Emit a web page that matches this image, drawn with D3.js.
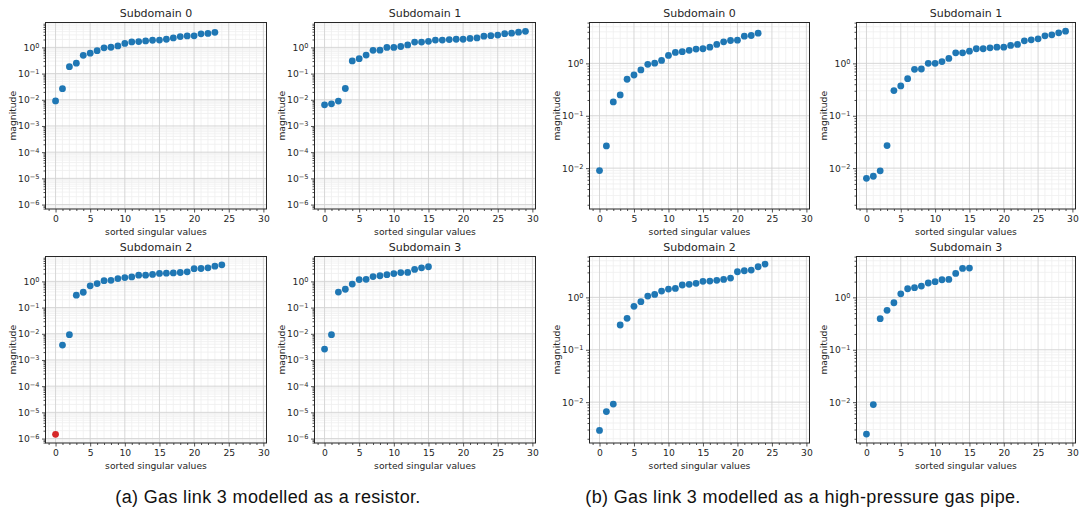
<!DOCTYPE html>
<html>
<head>
<meta charset="utf-8">
<script src="https://cdn.jsdelivr.net/npm/d3@7"></script>
<style>
  body { margin: 0; background: #fff; }
  svg text { font-family: "DejaVu Sans", sans-serif; fill: #262626; }
  .caption { font-family: "Liberation Sans", Arial, sans-serif; font-size: 18px; letter-spacing: 0.35px; fill: #111; }
</style>
</head>
<body>
<svg id="viz" width="1081" height="515"></svg>
<script>
// singular values (index = position in sorted list)
var resistorSub0 = [0.0090, 0.0265, 0.184, 0.25, 0.497, 0.60, 0.75, 0.96, 1.01, 1.14, 1.42, 1.62, 1.67, 1.77, 1.87, 1.90, 2.04, 2.30, 2.58, 2.73, 2.77, 3.30, 3.40, 3.77];
var resistorSub1 = [0.0064, 0.0070, 0.0089, 0.0269, 0.303, 0.371, 0.51, 0.77, 0.78, 1.0, 1.0, 1.08, 1.24, 1.59, 1.59, 1.71, 1.90, 1.90, 1.98, 2.04, 2.04, 2.20, 2.30, 2.69, 2.81, 2.94, 3.35, 3.50, 3.82, 4.11];
var resistorSub2 = [1.45e-6, 0.0037, 0.0092, 0.297, 0.385, 0.674, 0.826, 1.06, 1.10, 1.28, 1.40, 1.48, 1.72, 1.72, 1.84, 2.02, 2.05, 2.11, 2.18, 2.32, 3.05, 3.10, 3.30, 3.82, 4.30];
var resistorSub3 = [0.0026, 0.0092, 0.392, 0.50, 0.79, 1.17, 1.20, 1.53, 1.64, 1.80, 1.99, 2.17, 2.20, 2.87, 3.30, 3.62];
var pipeSub0 = [0.0090, 0.0265, 0.184, 0.25, 0.497, 0.60, 0.75, 0.96, 1.01, 1.14, 1.42, 1.62, 1.67, 1.77, 1.87, 1.90, 2.04, 2.30, 2.58, 2.73, 2.77, 3.30, 3.40, 3.77];
var pipeSub1 = [0.0064, 0.0070, 0.0089, 0.0269, 0.303, 0.371, 0.51, 0.77, 0.78, 1.0, 1.0, 1.08, 1.24, 1.59, 1.59, 1.71, 1.90, 1.90, 1.98, 2.04, 2.04, 2.20, 2.30, 2.69, 2.81, 2.94, 3.35, 3.50, 3.82, 4.11];
var pipeSub2 = [0.00288, 0.0066, 0.0092, 0.297, 0.398, 0.674, 0.826, 1.06, 1.14, 1.32, 1.44, 1.48, 1.72, 1.77, 1.85, 2.02, 2.05, 2.11, 2.20, 2.33, 3.08, 3.22, 3.32, 3.84, 4.31];
var pipeSub3 = [0.00246, 0.0090, 0.392, 0.565, 0.79, 1.17, 1.46, 1.53, 1.64, 1.88, 1.99, 2.17, 2.20, 2.87, 3.56, 3.62];

var xTicks = [0, 5, 10, 15, 20, 25, 30];
var leftExp = [-6, -5, -4, -3, -2, -1, 0];
var rightExp = [-2, -1, 0];
var captions = ["(a) Gas link 3 modelled as a resistor.", "(b) Gas link 3 modelled as a high-pressure gas pipe."];

var cols = [[45.5, 266.5], [314.5, 535.5], [589.5, 809.5], [856.5, 1075.5]];
var rows = [[22.5, 209], [256.5, 443]];
var blue = "#1f77b4", red = "#d62728";

var panels = [
  {title: "Subdomain 0", data: resistorSub0, col: 0, row: 0, logLim: [-6.17, 0.95], exps: leftExp},
  {title: "Subdomain 1", data: resistorSub1, col: 1, row: 0, logLim: [-6.17, 0.95], exps: leftExp},
  {title: "Subdomain 2", data: resistorSub2, col: 0, row: 1, logLim: [-6.17, 0.95], exps: leftExp, red: 0},
  {title: "Subdomain 3", data: resistorSub3, col: 1, row: 1, logLim: [-6.17, 0.95], exps: leftExp},
  {title: "Subdomain 0", data: pipeSub0, col: 2, row: 0, logLim: [-2.78, 0.78], exps: rightExp},
  {title: "Subdomain 1", data: pipeSub1, col: 3, row: 0, logLim: [-2.78, 0.78], exps: rightExp},
  {title: "Subdomain 2", data: pipeSub2, col: 2, row: 1, logLim: [-2.78, 0.78], exps: rightExp},
  {title: "Subdomain 3", data: pipeSub3, col: 3, row: 1, logLim: [-2.78, 0.78], exps: rightExp}
];

var svg = d3.select("#viz");

panels.forEach(drawPanel);

svg.append("text").attr("class", "caption").attr("x", 268).attr("y", 503)
  .attr("text-anchor", "middle").text(captions[0]);
svg.append("text").attr("class", "caption").attr("x", 803).attr("y", 503)
  .attr("text-anchor", "middle").text(captions[1]);

function drawPanel(p){
  var x0 = cols[p.col][0], x1 = cols[p.col][1];
  var y0 = rows[p.row][0], y1 = rows[p.row][1];
  var w = x1 - x0, h = y1 - y0;
  var g = svg.append("g").attr("transform", "translate(" + x0 + "," + y0 + ")");

  var xScale = d3.scaleLinear().domain([-1.45, 30.45]).range([0, w]);
  var yScale = d3.scaleLog().domain([Math.pow(10, p.logLim[0]), Math.pow(10, p.logLim[1])]).range([h, 0]);

  // minor and major tick positions
  var xMinor = d3.range(-1, 31).filter(function(v){ return v % 5 !== 0; });
  var yMinor = [];
  for(var e = Math.floor(p.logLim[0]); e <= Math.ceil(p.logLim[1]); e++){
    for(var m = 2; m < 10; m++){
      var v = m * Math.pow(10, e);
      if(v >= yScale.domain()[0] && v <= yScale.domain()[1]) yMinor.push(v);
    }
  }
  var yMajor = p.exps.map(function(e){ return Math.pow(10, e); });

  // grid
  g.selectAll(".gxm").data(xMinor).enter().append("line")
    .attr("x1", function(d){ return xScale(d); }).attr("x2", function(d){ return xScale(d); })
    .attr("y1", 0).attr("y2", h).attr("stroke", "#efefef").attr("stroke-width", 0.8);
  g.selectAll(".gym").data(yMinor).enter().append("line")
    .attr("y1", function(d){ return yScale(d); }).attr("y2", function(d){ return yScale(d); })
    .attr("x1", 0).attr("x2", w).attr("stroke", "#efefef").attr("stroke-width", 0.8);
  g.selectAll(".gx").data(xTicks).enter().append("line")
    .attr("x1", function(d){ return xScale(d); }).attr("x2", function(d){ return xScale(d); })
    .attr("y1", 0).attr("y2", h).attr("stroke", "#d3d3d3").attr("stroke-width", 0.9);
  g.selectAll(".gy").data(yMajor).enter().append("line")
    .attr("y1", function(d){ return yScale(d); }).attr("y2", function(d){ return yScale(d); })
    .attr("x1", 0).attr("x2", w).attr("stroke", "#d3d3d3").attr("stroke-width", 0.9);

  // points
  g.selectAll("circle").data(p.data).enter().append("circle")
    .attr("cx", function(d, i){ return xScale(i); })
    .attr("cy", function(d){ return yScale(d); })
    .attr("r", 3.4)
    .attr("fill", function(d, i){ return i === p.red ? red : blue; });

  // frame
  g.append("rect").attr("width", w).attr("height", h)
    .attr("fill", "none").attr("stroke", "#262626").attr("stroke-width", 1);

  // axes
  var xa = g.append("g").attr("transform", "translate(0," + h + ")")
    .call(d3.axisBottom(xScale).tickValues(xTicks).tickSize(3.5).tickPadding(2.5).tickFormat(d3.format("d")));
  g.append("g").attr("transform", "translate(0," + h + ")")
    .call(d3.axisBottom(xScale).tickValues(xMinor).tickSize(2).tickFormat(""));
  var ya = g.append("g")
    .call(d3.axisLeft(yScale).tickValues(yMajor).tickSize(3.5).tickPadding(3).tickFormat(""));
  g.append("g")
    .call(d3.axisLeft(yScale).tickValues(yMinor).tickSize(2).tickFormat(""));
  g.selectAll(".domain").remove();
  g.selectAll(".tick line").attr("stroke", "#262626").attr("stroke-width", 0.8);
  xa.selectAll("text").attr("font-size", 9.2).attr("fill", "#262626");

  ya.selectAll(".tick").each(function(d){
    var ex = Math.round(Math.log10(d));
    var t = d3.select(this).select("text")
      .attr("font-size", 9.2).attr("x", -6).attr("dy", "0.32em").attr("fill", "#262626");
    t.append("tspan").text("10");
    t.append("tspan").attr("dy", "-0.45em").attr("font-size", 6.6)
      .text(ex < 0 ? "\u2212" + (-ex) : String(ex));
  });

  // labels
  g.append("text").attr("x", w / 2).attr("y", -5.5).attr("text-anchor", "middle")
    .attr("font-size", 11).text(p.title);
  g.append("text").attr("x", w / 2).attr("y", h + 26).attr("text-anchor", "middle")
    .attr("font-size", 9.2).text("sorted singular values");
  g.append("text").attr("transform", "translate(-30," + (h / 2) + ") rotate(-90)")
    .attr("text-anchor", "middle").attr("font-size", 9.2).text("magnitude");
}
</script>
</body>
</html>
